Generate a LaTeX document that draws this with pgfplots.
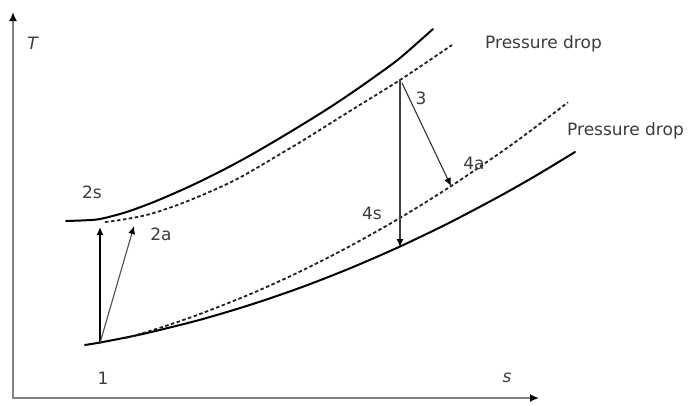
\documentclass[border=0pt]{standalone}
\usepackage{fontspec}
\setmainfont{DejaVu Sans}
\usepackage{pgfplots}
\pgfplotsset{compat=1.18}
\usetikzlibrary{arrows.meta}
\definecolor{axgray}{HTML}{808080}
\definecolor{txtgray}{HTML}{3C3C3C}
\definecolor{dashgray}{HTML}{202020}
\begin{document}
\begin{tikzpicture}
\begin{axis}[
  width=700pt, height=405pt, scale only axis,
  xmin=0, xmax=700, ymin=0, ymax=405, y dir=reverse,
  axis lines=none, clip=false,
  every axis plot/.append style={line join=round, line cap=round},
]
% axes
\addplot[axgray, line width=2pt, -{Latex[color=black,length=9pt,width=8pt]}] coordinates {(13,398) (13,12)};
\addplot[axgray, line width=2pt, -{Latex[color=black,length=9pt,width=8pt]}] coordinates {(13,398) (539,398)};
% upper solid (high pressure)
\addplot[black, line width=2pt, smooth] coordinates {
 (66,221) (85,220.3) (100,219) (125,212.5) (150,203.5) (175,193) (200,181.5) (225,169) (250,155.5)
 (275,141) (300,126) (325,110.5) (350,94) (375,76.5) (400,58) (433,29)};
% upper dashed
\addplot[dashgray, line width=1.8pt, dash pattern=on 3.5pt off 2.5pt, line cap=butt, smooth] coordinates {
 (105,222) (117,220.5) (140,216.5) (157,212) (180,204) (207,193) (240,177.5) (287,150) (307,138) (350,111) (400,80) (452,45)};
% lower solid
\addplot[black, line width=2pt, smooth] coordinates {
 (85,345) (100,342.5) (125,337.7) (150,332.3) (200,319.8) (250,304.9) (300,287.8) (350,268.3)
 (400,246.5) (450,222.4) (500,196) (537,175) (575,152)};
% lower dashed
\addplot[dashgray, line width=1.8pt, dash pattern=on 3.5pt off 2.5pt, line cap=butt, smooth] coordinates {
 (125,338) (140,334) (167,325.5) (200,314) (250,294.2) (300,271.6) (350,246.1) (400,217.9)
 (450,186.8) (500,152.9) (530,131.2) (568,102.3)};
% process arrows
\addplot[black, line width=1.5pt, -{Latex[length=8pt,width=7pt]}] coordinates {(100,343) (100,227)};
\addplot[black!70, line width=1.1pt, -{Latex[color=black,length=8pt,width=7pt]}] coordinates {(100,343) (134,226)};
\addplot[black!75, line width=1.1pt, -{Latex[color=black,length=8pt,width=7pt]}] coordinates {(400,80) (400,247)};
\addplot[black!80, line width=1.1pt, -{Latex[color=black,length=8pt,width=7pt]}] coordinates {(402,83) (451,186)};
% labels
\begin{scope}[every node/.style={font=\fontsize{17}{20}\selectfont, text=txtgray, inner sep=0pt}]
\node at (axis cs:33,43) {\textit{T}};
\node at (axis cs:507,378) {\textit{s}};
\node at (axis cs:103,378) {1};
\node at (axis cs:92,192) {2s};
\node at (axis cs:161,234) {2a};
\node at (axis cs:421,98) {3};
\node at (axis cs:474,163) {4a};
\node at (axis cs:372,213) {4s};
\node[anchor=west] at (axis cs:485,44) {Pressure drop};
\node[anchor=west] at (axis cs:567,131) {Pressure drop};
\end{scope}
\end{axis}
\pgfresetboundingbox
\path (current axis.south west) rectangle (current axis.north east);
\end{tikzpicture}
\end{document}
